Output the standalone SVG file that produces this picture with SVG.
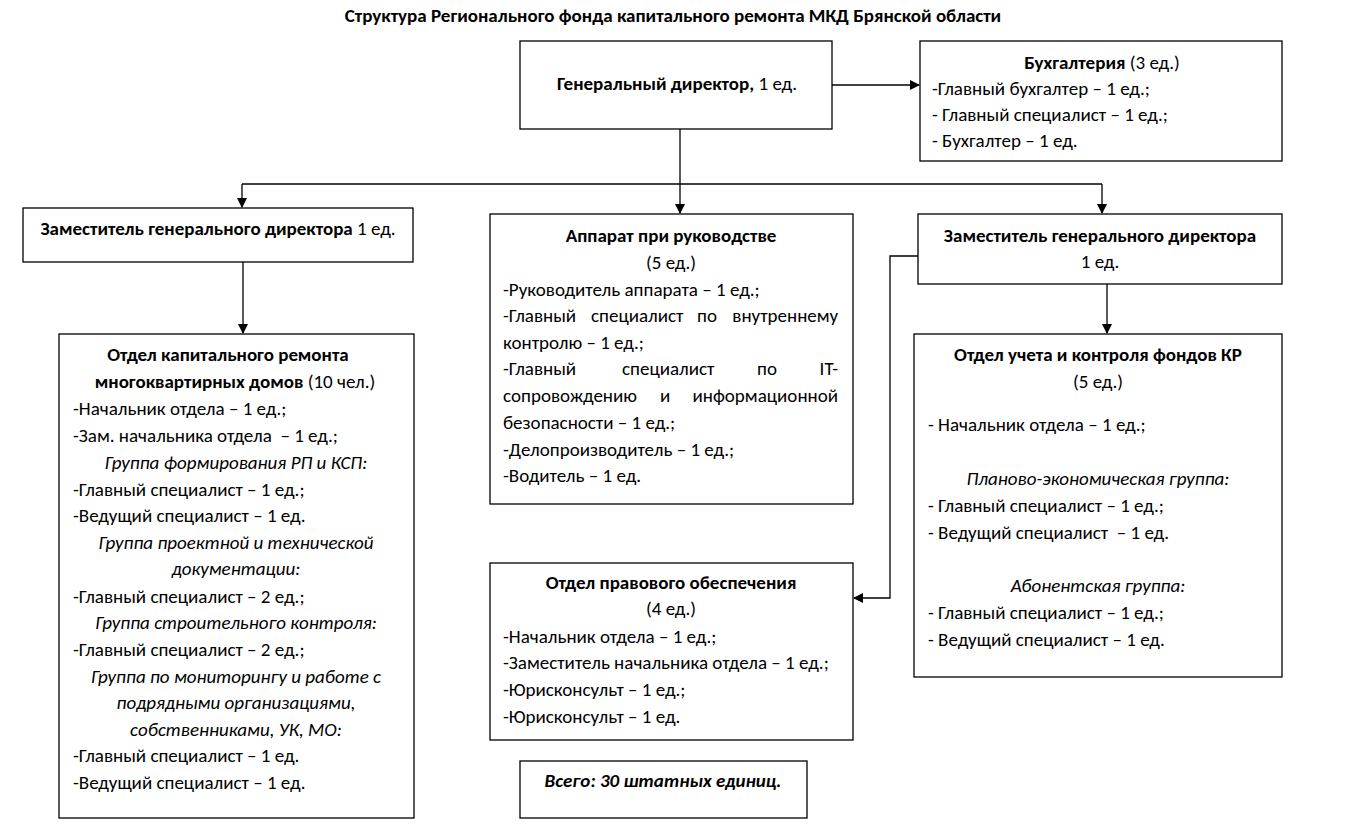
<svg xmlns="http://www.w3.org/2000/svg" width="1348" height="827" viewBox="0 0 1348 827">
<defs>
<marker id="ah" markerWidth="10" markerHeight="10" refX="9" refY="5" orient="auto" markerUnits="userSpaceOnUse">
<path d="M0,0 L10,5 L0,10 z" fill="#000"/>
</marker>
<style>
text{font-family:Carlito,Lato,"Liberation Sans",sans-serif;font-size:19px;fill:#000}
.b{font-weight:bold}
.i{font-style:italic}
.c{text-anchor:middle}
.e{text-anchor:end}
.p{white-space:pre}
.box{fill:#fff;stroke:#000;stroke-width:1.3}
.ln{fill:none;stroke:#000;stroke-width:1.3}
</style>
</defs>
<rect width="1348" height="827" fill="#fff"/>
<text x="673" y="22" class="b c" style="font-size:19px">Структура Регионального фонда капитального ремонта МКД Брянской области</text>

<g id="connectors">
<line class="ln" x1="832" y1="85" x2="919" y2="85" marker-end="url(#ah)"/>
<line class="ln" x1="680" y1="129" x2="680" y2="213" marker-end="url(#ah)"/>
<polyline class="ln" points="242,184 1102,184"/>
<line class="ln" x1="242" y1="184" x2="242" y2="207" marker-end="url(#ah)"/>
<line class="ln" x1="1102" y1="184" x2="1102" y2="213" marker-end="url(#ah)"/>
<line class="ln" x1="243" y1="262" x2="243" y2="333" marker-end="url(#ah)"/>
<line class="ln" x1="1107" y1="284" x2="1107" y2="333" marker-end="url(#ah)"/>
<polyline class="ln" points="918,256 890,256 890,598 854,598" marker-end="url(#ah)"/>
</g>

<g id="gen-director">
<rect class="box" x="520" y="41" width="312" height="88"/>
<text x="677" y="90" class="c"><tspan class="b">Генеральный директор,</tspan> 1 ед.</text>
</g>

<g id="accounting">
<rect class="box" x="920" y="41" width="362" height="120"/>
<text x="1102" y="69" class="c"><tspan class="b">Бухгалтерия</tspan> (3 ед.)</text>
<text x="932" y="95">-Главный бухгалтер – 1 ед.;</text>
<text x="932" y="121">- Главный специалист – 1 ед.;</text>
<text x="932" y="147">- Бухгалтер – 1 ед.</text>
</g>

<g id="deputy-left">
<rect class="box" x="23" y="208" width="390" height="54"/>
<text x="218" y="235" class="c"><tspan class="b">Заместитель генерального директора</tspan> 1 ед.</text>
</g>

<g id="apparatus">
<rect class="box" x="490" y="214" width="363" height="290"/>
<text x="671" y="242" class="b c">Аппарат при руководстве</text>
<text x="671" y="269" class="c">(5 ед.)</text>
<text x="503" y="296">-Руководитель аппарата – 1 ед.;</text>
<text x="503" y="322">-Главный</text><text x="591" y="322">специалист</text><text x="697" y="322">по</text><text x="838" y="322" class="e">внутреннему</text>
<text x="503" y="349">контролю – 1 ед.;</text>
<text x="503" y="375">-Главный</text><text x="622" y="375">специалист</text><text x="757" y="375">по</text><text x="838" y="375" class="e">IT-</text>
<text x="503" y="402">сопровождению</text><text x="660" y="402">и</text><text x="838" y="402" class="e">информационной</text>
<text x="503" y="429">безопасности – 1 ед.;</text>
<text x="503" y="456">-Делопроизводитель – 1 ед.;</text>
<text x="503" y="482">-Водитель – 1 ед.</text>
</g>

<g id="deputy-right">
<rect class="box" x="918" y="214" width="364" height="70"/>
<text x="1100" y="242" class="b c">Заместитель генерального директора</text>
<text x="1100" y="268" class="c">1 ед.</text>
</g>

<g id="dept-capital-repair">
<rect class="box" x="59" y="334" width="355" height="484"/>
<text x="228" y="361" class="b c">Отдел капитального ремонта</text>
<text x="235" y="388" class="c"><tspan class="b">многоквартирных домов</tspan> (10 чел.)</text>
<text x="73" y="415">-Начальник отдела – 1 ед.;</text>
<text x="73" y="442" class="p">-Зам. начальника отдела  – 1 ед.;</text>
<text x="236" y="469" class="i c">Группа формирования РП и КСП:</text>
<text x="73" y="496">-Главный специалист – 1 ед.;</text>
<text x="73" y="522">-Ведущий специалист – 1 ед.</text>
<text x="236" y="549" class="i c">Группа проектной и технической</text>
<text x="236" y="575" class="i c">документации:</text>
<text x="73" y="603">-Главный специалист – 2 ед.;</text>
<text x="236" y="629" class="i c">Группа строительного контроля:</text>
<text x="73" y="656">-Главный специалист – 2 ед.;</text>
<text x="236" y="683" class="i c">Группа по мониторингу и работе с</text>
<text x="236" y="709" class="i c">подрядными организациями,</text>
<text x="236" y="736" class="i c">собственниками, УК, МО:</text>
<text x="73" y="762">-Главный специалист – 1 ед.</text>
<text x="73" y="789">-Ведущий специалист – 1 ед.</text>
</g>

<g id="dept-funds">
<rect class="box" x="914" y="334" width="368" height="343"/>
<text x="1098" y="361" class="b c">Отдел учета и контроля фондов КР</text>
<text x="1098" y="388" class="c">(5 ед.)</text>
<text x="928" y="431">- Начальник отдела – 1 ед.;</text>
<text x="1098" y="485" class="i c">Планово-экономическая группа:</text>
<text x="928" y="512">- Главный специалист – 1 ед.;</text>
<text x="928" y="539" class="p">- Ведущий специалист  – 1 ед.</text>
<text x="1098" y="592" class="i c">Абонентская группа:</text>
<text x="928" y="619">- Главный специалист – 1 ед.;</text>
<text x="928" y="646">- Ведущий специалист – 1 ед.</text>
</g>

<g id="dept-legal">
<rect class="box" x="490" y="563" width="363" height="177"/>
<text x="671" y="589" class="b c">Отдел правового обеспечения</text>
<text x="671" y="615" class="c">(4 ед.)</text>
<text x="503" y="643">-Начальник отдела – 1 ед.;</text>
<text x="503" y="669">-Заместитель начальника отдела – 1 ед.;</text>
<text x="503" y="696">-Юрисконсульт – 1 ед.;</text>
<text x="503" y="723">-Юрисконсульт – 1 ед.</text>
</g>

<g id="total">
<rect class="box" x="520" y="761" width="287" height="57"/>
<text x="663" y="787" class="b i c">Всего: 30 штатных единиц.</text>
</g>
</svg>
